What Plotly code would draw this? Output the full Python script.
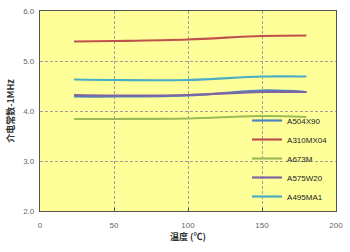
import plotly.graph_objects as go

temps = [23, 50, 100, 150, 180]
series_names = ["A504X90", "A310MX04", "A673M", "A575W20", "A495MA1"]
A504X90 = [4.29, 4.29, 4.31, 4.41, 4.38]
A310MX04 = [5.39, 5.40, 5.43, 5.50, 5.51]
A673M = [3.84, 3.84, 3.85, 3.90, 3.88]
A575W20 = [4.32, 4.31, 4.32, 4.38, 4.38]
A495MA1 = [4.63, 4.62, 4.62, 4.69, 4.69]
values = [A504X90, A310MX04, A673M, A575W20, A495MA1]
colors = ["#4F81BD", "#C0504D", "#9BBB59", "#8064A2", "#4BACC6"]

fig = go.Figure()
for name, vals, c in zip(series_names, values, colors):
    fig.add_trace(go.Scatter(x=temps, y=vals, name=name, mode="lines",
                             line=dict(color=c, width=2.2, shape="spline")))

font = "Liberation Sans, Arial, Noto Sans CJK SC, sans-serif"
fig.update_layout(
    width=350, height=252,
    margin=dict(l=40, r=14, t=7, b=41),
    paper_bgcolor="white", plot_bgcolor="#FFFF99",
    font=dict(family=font, size=8, color="#333"),
    showlegend=True,
    legend=dict(x=0.99, y=0.0, xanchor="right", yanchor="bottom",
                bgcolor="rgba(0,0,0,0)", borderwidth=0, tracegroupgap=0,
                font=dict(size=8, color="#222"), itemwidth=30),
    xaxis=dict(range=[0, 200], dtick=50, showgrid=True, gridcolor="#A0A0A0",
               griddash="3px,2px", gridwidth=0.8, zeroline=False,
               showline=True, linecolor="#555", linewidth=1.2, mirror=True,
               ticks="inside", ticklen=3, tickcolor="#555", ticklabelstandoff=6,
               tickfont=dict(size=8, color="#666"),
               title=dict(text="<b>温度 (℃)</b>", font=dict(size=9, color="#333", family="Noto Sans CJK SC, sans-serif"), standoff=4)),
    yaxis=dict(range=[2, 6], dtick=1, tickformat=".1f", showgrid=True, gridcolor="#A0A0A0",
               griddash="3px,2px", gridwidth=0.8, zeroline=False,
               showline=True, linecolor="#555", linewidth=1.2, mirror=True,
               ticks="", ticklabelstandoff=3, tickfont=dict(size=8, color="#666"),
               title=dict(text="<b>介电常数-1MHz</b>", font=dict(size=9, color="#333", family="Noto Sans CJK SC, sans-serif"), standoff=7)),
)
fig.write_html("out.html")
